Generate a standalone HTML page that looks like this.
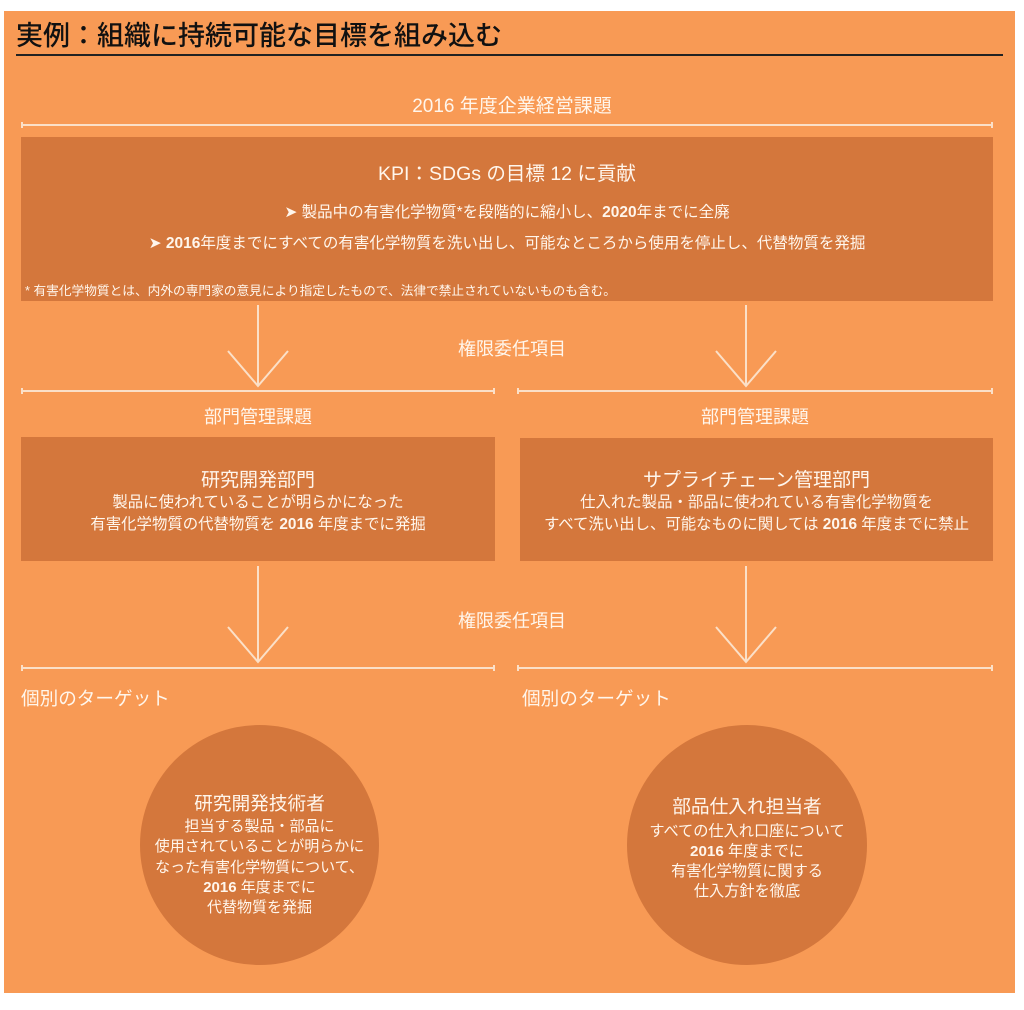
<!DOCTYPE html>
<html><head><meta charset="utf-8">
<style>
*{margin:0;padding:0;box-sizing:border-box}
body{width:1024px;height:1010px;background:#fff;position:relative;overflow:hidden;font-family:"Liberation Sans","Noto Sans CJK JP",sans-serif;color:#fff6ec}
.bg{position:absolute;left:4px;top:11px;width:1011px;height:982px;background:#f89a55}
.a{position:absolute;white-space:nowrap}
.c{position:absolute;text-align:center;white-space:nowrap}
.box{position:absolute;background:#d4773c}
.hl{position:absolute;height:2px;background:#fbe0c8}
.hl:before,.hl:after{content:"";position:absolute;top:-2px;width:2px;height:6px;background:#fbe0c8}
.hl:before{left:0}.hl:after{right:0}
.circ{position:absolute;border-radius:50%;background:#d4773c}
b{font-weight:bold}
</style></head><body>
<div class="bg"></div>
<div class="a" style="left:16px;top:21px;line-height:30px;font-size:27px;color:#111;font-weight:500">実例：組織に持続可能な目標を組み込む</div>
<div class="a" style="left:16px;top:54px;width:987px;height:2px;background:#222"></div>

<div class="c" style="left:0;width:1024px;top:97px;line-height:20px;font-size:19px">2016 年度企業経営課題</div>
<div class="hl" style="left:21px;top:124px;width:972px"></div>

<div class="box" style="left:21px;top:137px;width:972px;height:164px"></div>
<div class="c" style="left:21px;width:972px;top:164px;line-height:20px;font-size:19.5px">KPI：SDGs の目標 12 に貢献</div>
<div class="c" style="left:21px;width:972px;top:203px;line-height:20px;font-size:15.5px">➤ 製品中の有害化学物質*を段階的に縮小し、<b>2020</b>年までに全廃</div>
<div class="c" style="left:21px;width:972px;top:234px;line-height:20px;font-size:15.5px">➤ <b>2016</b>年度までにすべての有害化学物質を洗い出し、可能なところから使用を停止し、代替物質を発掘</div>
<div class="a" style="left:25px;top:283px;line-height:16px;font-size:12.7px">* 有害化学物質とは、内外の専門家の意見により指定したもので、法律で禁止されていないものも含む。</div>

<svg class="a" style="left:0;top:0" width="1024" height="1010">
<g stroke="#fbe0c8" stroke-width="2" fill="none">
<path d="M258 305V386M228 351L258 386L288 351"/>
<path d="M746 305V386M716 351L746 386L776 351"/>
<path d="M258 566V662M228 627L258 662L288 627"/>
<path d="M746 566V662M716 627L746 662L776 627"/>
</g></svg>

<div class="c" style="left:0;width:1024px;top:339px;line-height:20px;font-size:18px">権限委任項目</div>
<div class="hl" style="left:21px;top:390px;width:474px"></div>
<div class="hl" style="left:517px;top:390px;width:476px"></div>
<div class="c" style="left:21px;width:474px;top:407px;line-height:20px;font-size:18px">部門管理課題</div>
<div class="c" style="left:517px;width:476px;top:407px;line-height:20px;font-size:18px">部門管理課題</div>

<div class="box" style="left:21px;top:437px;width:474px;height:124px"></div>
<div class="box" style="left:520px;top:438px;width:473px;height:123px"></div>
<div class="c" style="left:21px;width:474px;top:471px;line-height:20px;font-size:19px">研究開発部門</div>
<div class="c" style="left:21px;width:474px;top:492px;font-size:15.4px;line-height:22px">製品に使われていることが明らかになった<br>有害化学物質の代替物質を <b>2016</b> 年度までに発掘</div>
<div class="c" style="left:520px;width:473px;top:471px;line-height:20px;font-size:19px">サプライチェーン管理部門</div>
<div class="c" style="left:520px;width:473px;top:492px;font-size:15.4px;line-height:22px">仕入れた製品・部品に使われている有害化学物質を<br>すべて洗い出し、可能なものに関しては <b>2016</b> 年度までに禁止</div>

<div class="c" style="left:0;width:1024px;top:611px;line-height:20px;font-size:18px">権限委任項目</div>
<div class="hl" style="left:21px;top:667px;width:474px"></div>
<div class="hl" style="left:517px;top:667px;width:476px"></div>
<div class="a" style="left:21px;top:689px;line-height:20px;font-size:18.6px">個別のターゲット</div>
<div class="a" style="left:522px;top:689px;line-height:20px;font-size:18.6px">個別のターゲット</div>

<div class="circ" style="left:140px;top:725px;width:239px;height:240px"></div>
<div class="c" style="left:140px;width:239px;top:794px;line-height:20px;font-size:18.7px">研究開発技術者</div>
<div class="c" style="left:140px;width:239px;top:817px;font-size:15px;line-height:20.3px">担当する製品・部品に<br>使用されていることが明らかに<br>なった有害化学物質について、<br><b>2016</b> 年度までに<br>代替物質を発掘</div>

<div class="circ" style="left:627px;top:725px;width:240px;height:240px"></div>
<div class="c" style="left:627px;width:240px;top:797px;line-height:20px;font-size:18.7px">部品仕入れ担当者</div>
<div class="c" style="left:627px;width:240px;top:822px;font-size:15.2px;line-height:20px">すべての仕入れ口座について<br><b>2016</b> 年度までに<br>有害化学物質に関する<br>仕入方針を徹底</div>
</body></html>
